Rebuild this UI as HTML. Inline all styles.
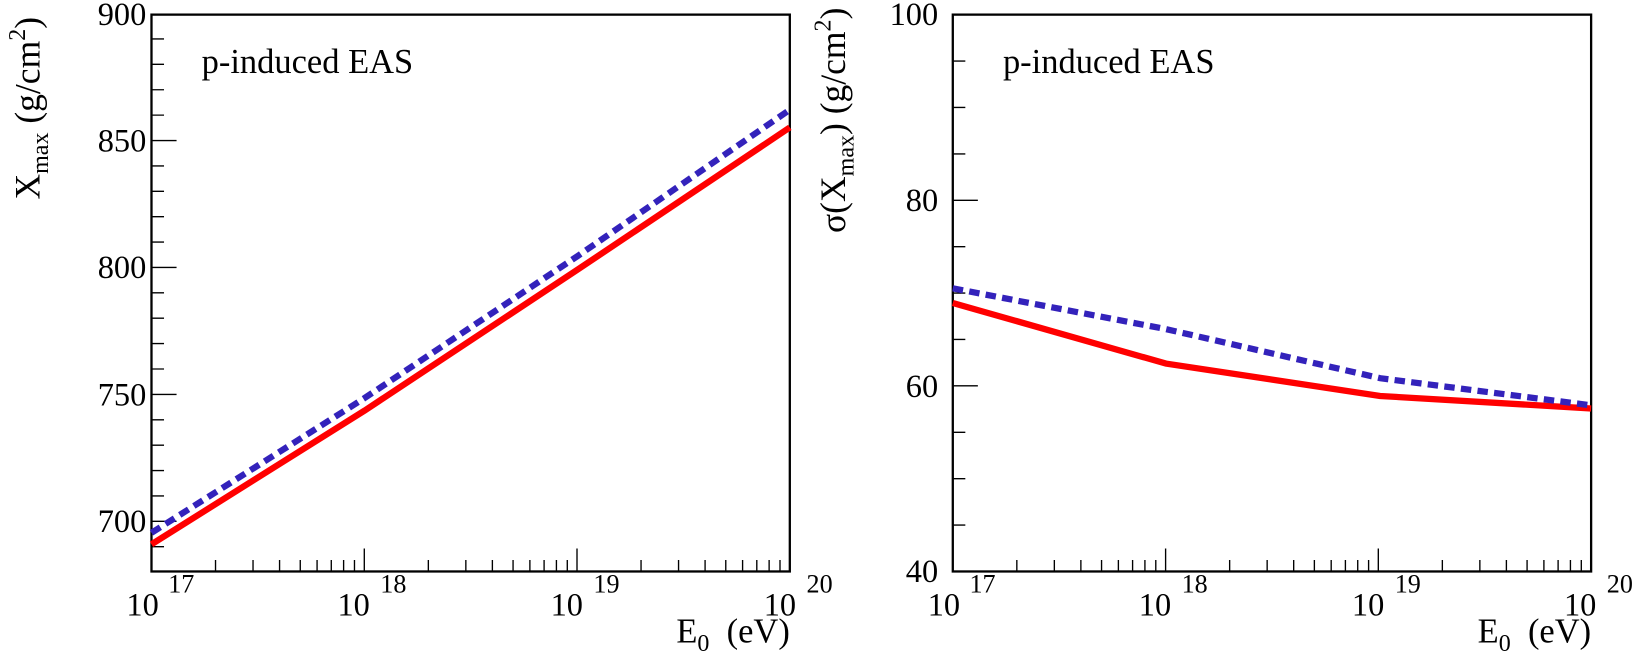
<!DOCTYPE html>
<html><head><meta charset="utf-8"><style>
html,body{margin:0;padding:0;background:#fff;}
svg{display:block;}
text{font-family:"Liberation Serif",serif;fill:#000;}
</style></head><body>
<svg width="1635" height="654" viewBox="0 0 1565 626" preserveAspectRatio="none">
<!-- LEFT PANEL -->
<g stroke="#000" fill="none">
<rect x="145" y="14" width="611" height="533" stroke-width="2.2"/>
<path stroke-width="1.3" d="
M145 523.3h12 M145 499h24 M145 474.7h12 M145 450.4h12 M145 426.1h12 M145 401.8h12 M145 377.5h24 M145 353.2h12 M145 328.9h12 M145 304.6h12 M145 280.3h12 M145 256h24 M145 231.7h12 M145 207.4h12 M145 183.1h12 M145 158.8h12 M145 134.5h24 M145 110.2h12 M145 85.9h12 M145 61.6h12 M145 37.3h12
M206.3 547v-11 M242.2 547v-11 M267.6 547v-11 M287.4 547v-11 M303.5 547v-11 M317.1 547v-11 M328.9 547v-11 M339.3 547v-11 M348.7 547v-22
M410 547v-11 M445.9 547v-11 M471.3 547v-11 M491.1 547v-11 M507.2 547v-11 M520.8 547v-11 M532.6 547v-11 M543 547v-11 M552.3 547v-22
M613.6 547v-11 M649.5 547v-11 M674.9 547v-11 M694.7 547v-11 M710.8 547v-11 M724.4 547v-11 M736.2 547v-11 M746.6 547v-11"/>
</g>
<polyline points="145,521 349,393 553,258 756,122" fill="none" stroke="#ff0000" stroke-width="6"/>
<polyline points="145,510 349,381 553,245 756,105" fill="none" stroke="#3322bb" stroke-width="6" stroke-dasharray="10,6"/>
<g font-size="31" text-anchor="end">
<text x="140" y="24">900</text>
<text x="140" y="145">850</text>
<text x="140" y="266">800</text>
<text x="140" y="388">750</text>
<text x="140" y="509">700</text>
</g>
<g font-size="31">
<text x="121" y="589">10</text><text x="161" y="567" font-size="25">17</text>
<text x="323" y="589">10</text><text x="364" y="567" font-size="25">18</text>
<text x="527" y="589">10</text><text x="568" y="567" font-size="25">19</text>
<text x="731" y="589">10</text><text x="772" y="567" font-size="25">20</text>
</g>
<text x="756" y="615" font-size="33" text-anchor="end" xml:space="preserve">E<tspan font-size="23" dy="8">0</tspan><tspan dy="-8">  (eV)</tspan></text>
<text x="193" y="70" font-size="33">p-induced EAS</text>
<text transform="translate(38,191) rotate(-90)" font-size="34">X<tspan font-size="23" dy="8">max</tspan><tspan dy="-8"> (g/cm</tspan><tspan font-size="23" dy="-14">2</tspan><tspan dy="14">)</tspan></text>

<!-- RIGHT PANEL -->
<g stroke="#000" fill="none">
<rect x="912" y="14" width="611" height="533" stroke-width="2.2"/>
<path stroke-width="1.3" d="
M912 58.4h12 M912 102.8h12 M912 147.3h12 M912 191.7h24 M912 236.1h12 M912 280.5h12 M912 324.9h12 M912 369.3h24 M912 413.8h12 M912 458.2h12 M912 502.6h12
M973.3 547v-11 M1009.2 547v-11 M1034.6 547v-11 M1054.4 547v-11 M1070.5 547v-11 M1084.1 547v-11 M1095.9 547v-11 M1106.3 547v-11 M1115.7 547v-22
M1177 547v-11 M1212.9 547v-11 M1238.3 547v-11 M1258.1 547v-11 M1274.2 547v-11 M1287.8 547v-11 M1299.6 547v-11 M1310 547v-11 M1319.3 547v-22
M1380.6 547v-11 M1416.5 547v-11 M1441.9 547v-11 M1461.7 547v-11 M1477.8 547v-11 M1491.4 547v-11 M1503.2 547v-11 M1513.6 547v-11"/>
</g>
<polyline points="912,290 1116,348 1321,379 1523,391" fill="none" stroke="#ff0000" stroke-width="6"/>
<polyline points="912,276 1116,315 1321,362 1523,388" fill="none" stroke="#3322bb" stroke-width="6" stroke-dasharray="10,6"/>
<g font-size="31" text-anchor="end">
<text x="898" y="24">100</text>
<text x="898" y="202">80</text>
<text x="898" y="380">60</text>
<text x="898" y="557">40</text>
</g>
<g font-size="31">
<text x="888" y="589">10</text><text x="928" y="567" font-size="25">17</text>
<text x="1090" y="589">10</text><text x="1131" y="567" font-size="25">18</text>
<text x="1294" y="589">10</text><text x="1335" y="567" font-size="25">19</text>
<text x="1497" y="589">10</text><text x="1538" y="567" font-size="25">20</text>
</g>
<text x="1523" y="615" font-size="33" text-anchor="end" xml:space="preserve">E<tspan font-size="23" dy="8">0</tspan><tspan dy="-8">  (eV)</tspan></text>
<text x="960" y="70" font-size="33">p-induced EAS</text>
<text transform="translate(809,223) rotate(-90)" font-size="34">σ(X<tspan font-size="23" dy="8">max</tspan><tspan dy="-8">) (g/cm</tspan><tspan font-size="23" dy="-14">2</tspan><tspan dy="14">)</tspan></text>
</svg>
</body></html>
